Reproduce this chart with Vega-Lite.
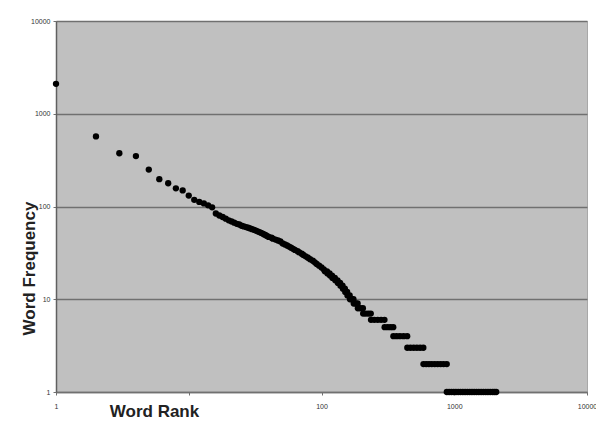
{
  "$schema": "https://vega.github.io/schema/vega-lite/v6.json",
  "width": 531,
  "height": 371,
  "autosize": {"type": "none"},
  "padding": {"left": 56, "top": 21, "right": 9, "bottom": 36},
  "background": "white",
  "config": {"view": {"fill": "#c0c0c0", "stroke": "#a8a8a8", "strokeWidth": 1}},
  "data": {"values": [
    {"rank": 1, "freq": 2100}, {"rank": 2, "freq": 570}, {"rank": 3, "freq": 375}, {"rank": 4, "freq": 350},
    {"rank": 5, "freq": 250}, {"rank": 6, "freq": 197}, {"rank": 7, "freq": 178}, {"rank": 8, "freq": 157},
    {"rank": 9, "freq": 149}, {"rank": 10, "freq": 131}, {"rank": 11, "freq": 118}, {"rank": 12, "freq": 112},
    {"rank": 13, "freq": 108}, {"rank": 14, "freq": 103}, {"rank": 15, "freq": 98}, {"rank": 16, "freq": 84},
    {"rank": 17, "freq": 80}, {"rank": 18, "freq": 77}, {"rank": 19, "freq": 74}, {"rank": 20, "freq": 71},
    {"rank": 21, "freq": 69}, {"rank": 22, "freq": 67}, {"rank": 23, "freq": 65}, {"rank": 24, "freq": 64},
    {"rank": 25, "freq": 62}, {"rank": 26, "freq": 61}, {"rank": 27, "freq": 60}, {"rank": 28, "freq": 59},
    {"rank": 29, "freq": 58}, {"rank": 30, "freq": 57}, {"rank": 31, "freq": 56}, {"rank": 32, "freq": 55},
    {"rank": 33, "freq": 54}, {"rank": 34, "freq": 53}, {"rank": 35, "freq": 52}, {"rank": 36, "freq": 51},
    {"rank": 37, "freq": 50}, {"rank": 38, "freq": 49}, {"rank": 39, "freq": 48}, {"rank": 40, "freq": 47},
    {"rank": 42, "freq": 46}, {"rank": 43, "freq": 45}, {"rank": 45, "freq": 44}, {"rank": 47, "freq": 43},
    {"rank": 49, "freq": 42}, {"rank": 51, "freq": 40}, {"rank": 53, "freq": 39}, {"rank": 55, "freq": 38},
    {"rank": 57, "freq": 37}, {"rank": 59, "freq": 36}, {"rank": 61, "freq": 35}, {"rank": 63, "freq": 34},
    {"rank": 66, "freq": 33}, {"rank": 68, "freq": 32}, {"rank": 71, "freq": 31}, {"rank": 73, "freq": 30},
    {"rank": 76, "freq": 29}, {"rank": 79, "freq": 28}, {"rank": 82, "freq": 27}, {"rank": 86, "freq": 26},
    {"rank": 89, "freq": 25}, {"rank": 92, "freq": 24}, {"rank": 96, "freq": 23}, {"rank": 100, "freq": 22},
    {"rank": 104, "freq": 21}, {"rank": 106, "freq": 20}, {"rank": 110, "freq": 20},
    {"rank": 111, "freq": 19}, {"rank": 115, "freq": 19}, {"rank": 116, "freq": 18}, {"rank": 120, "freq": 18},
    {"rank": 121, "freq": 17}, {"rank": 126, "freq": 17}, {"rank": 127, "freq": 16}, {"rank": 132, "freq": 16},
    {"rank": 133, "freq": 15}, {"rank": 138, "freq": 15}, {"rank": 139, "freq": 14}, {"rank": 144, "freq": 14},
    {"rank": 145, "freq": 13}, {"rank": 150, "freq": 13}, {"rank": 151, "freq": 12}, {"rank": 156, "freq": 12},
    {"rank": 157, "freq": 11}, {"rank": 163, "freq": 11}, {"rank": 164, "freq": 10}, {"rank": 169, "freq": 10},
    {"rank": 174, "freq": 10}, {"rank": 175, "freq": 9}, {"rank": 181, "freq": 9}, {"rank": 187, "freq": 9},
    {"rank": 188, "freq": 8}, {"rank": 196, "freq": 8}, {"rank": 205, "freq": 8},
    {"rank": 206, "freq": 7}, {"rank": 215, "freq": 7}, {"rank": 225, "freq": 7}, {"rank": 235, "freq": 7},
    {"rank": 236, "freq": 6}, {"rank": 250, "freq": 6}, {"rank": 265, "freq": 6}, {"rank": 281, "freq": 6}, {"rank": 298, "freq": 6},
    {"rank": 299, "freq": 5}, {"rank": 315, "freq": 5}, {"rank": 331, "freq": 5}, {"rank": 347, "freq": 5},
    {"rank": 348, "freq": 4}, {"rank": 368, "freq": 4}, {"rank": 390, "freq": 4}, {"rank": 415, "freq": 4}, {"rank": 442, "freq": 4},
    {"rank": 443, "freq": 3}, {"rank": 468, "freq": 3}, {"rank": 495, "freq": 3}, {"rank": 523, "freq": 3},
    {"rank": 553, "freq": 3}, {"rank": 585, "freq": 3},
    {"rank": 586, "freq": 2}, {"rank": 615, "freq": 2}, {"rank": 645, "freq": 2}, {"rank": 677, "freq": 2},
    {"rank": 712, "freq": 2}, {"rank": 750, "freq": 2}, {"rank": 790, "freq": 2}, {"rank": 832, "freq": 2}, {"rank": 878, "freq": 2},
    {"rank": 879, "freq": 1}, {"rank": 915, "freq": 1}, {"rank": 952, "freq": 1}, {"rank": 990, "freq": 1},
    {"rank": 1030, "freq": 1}, {"rank": 1072, "freq": 1}, {"rank": 1115, "freq": 1}, {"rank": 1160, "freq": 1},
    {"rank": 1207, "freq": 1}, {"rank": 1256, "freq": 1}, {"rank": 1307, "freq": 1}, {"rank": 1360, "freq": 1},
    {"rank": 1415, "freq": 1}, {"rank": 1472, "freq": 1}, {"rank": 1532, "freq": 1}, {"rank": 1594, "freq": 1},
    {"rank": 1658, "freq": 1}, {"rank": 1725, "freq": 1}, {"rank": 1795, "freq": 1}, {"rank": 1868, "freq": 1},
    {"rank": 1944, "freq": 1}, {"rank": 2005, "freq": 1}, {"rank": 2070, "freq": 1}
  ]},
  "mark": {"type": "point", "shape": "circle", "filled": true, "color": "black", "size": 40, "opacity": 1},
  "encoding": {
    "x": {
      "field": "rank", "type": "quantitative",
      "scale": {"type": "log", "domain": [1, 10000], "nice": false},
      "axis": {
        "values": [1, 10, 100, 1000, 10000], "format": "d",
        "labelExpr": "datum.value == 10 ? '' : datum.label",
        "grid": false, "domainColor": "#707070", "domainWidth": 1.5,
        "tickColor": "#707070", "tickSize": 3,
        "labelFontSize": 7, "labelColor": "#333333", "labelPadding": 7, "labelFont": "Liberation Sans",
        "labelFlush": false, "labelOverlap": false,
        "title": "Word Rank", "titleFont": "Liberation Sans", "titleFontSize": 17, "titleFontWeight": "bold",
        "titleColor": "#222222", "titleX": 98, "titleY": 24, "titleAlign": "center", "titleBaseline": "alphabetic"
      }
    },
    "y": {
      "field": "freq", "type": "quantitative",
      "scale": {"type": "log", "domain": [1, 10000], "nice": false},
      "axis": {
        "values": [1, 10, 100, 1000, 10000], "format": "d",
        "grid": true, "gridColor": "#707070", "gridWidth": 1.5,
        "domainColor": "#606060", "domainWidth": 1.5,
        "tickColor": "#707070", "tickSize": 3,
        "labelFontSize": 7, "labelColor": "#333333", "labelPadding": 3, "labelFont": "Liberation Sans",
        "labelFlush": false, "labelOverlap": false,
        "title": "Word Frequency", "titleFont": "Liberation Sans", "titleFontSize": 17, "titleFontWeight": "bold",
        "titleColor": "#222222", "titleAngle": -90, "titleX": -22, "titleY": 247, "titleAlign": "center",
        "titleBaseline": "alphabetic"
      }
    }
  }
}
